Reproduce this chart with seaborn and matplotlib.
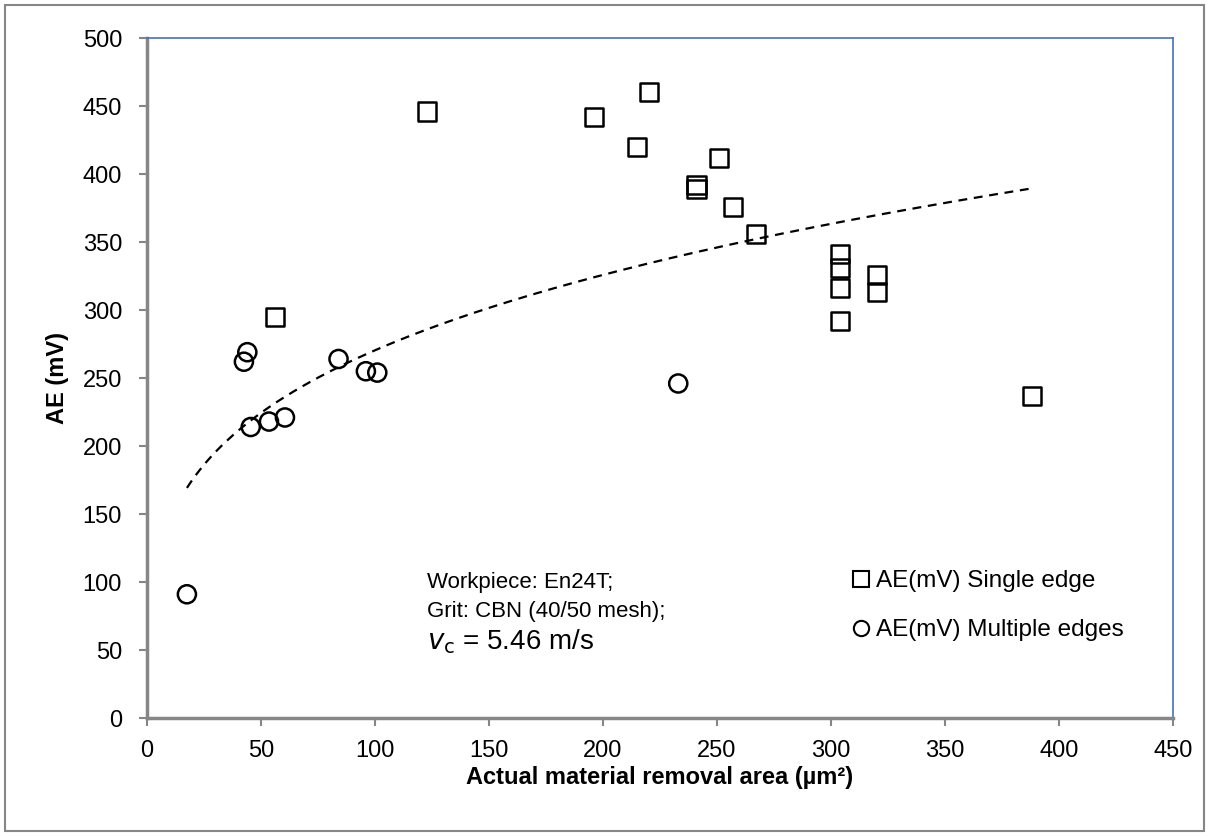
import numpy as np
import pandas as pd
import matplotlib
matplotlib.use("Agg")
import matplotlib.pyplot as plt
from matplotlib.patches import Rectangle
import seaborn as sns

# ── data ─────────────────────────────────────────────────────────────────────
single_x = [56, 123, 196, 220, 215, 251, 241, 241, 257, 267,
            304, 304, 304, 304, 320, 320, 388]
single_y = [295, 446, 442, 460, 420, 412, 392, 389, 376, 356,
            341, 331, 316, 292, 326, 313, 237]
multi_x = [17.5, 42.5, 44, 45.5, 53.5, 60.5, 84, 96, 101, 233]
multi_y = [91, 262, 269, 214, 218, 221, 264, 255, 254, 246]

series_names = ["AE(mV) Single edge", "AE(mV) Multiple edges"]
x_ticks = list(range(0, 451, 50))
y_ticks = list(range(0, 501, 50))

df = pd.concat([
    pd.DataFrame({"area": single_x, "ae": single_y, "series": series_names[0]}),
    pd.DataFrame({"area": multi_x, "ae": multi_y, "series": series_names[1]}),
], ignore_index=True)

# power trendline over all points (Excel style)
b, ln_a = np.polyfit(np.log(df["area"]), np.log(df["ae"]), 1)
fit_x = np.linspace(df["area"].min(), df["area"].max(), 200)
fit = pd.DataFrame({"area": fit_x, "ae": np.exp(ln_a) * fit_x ** b})

# ── figure ───────────────────────────────────────────────────────────────────
sns.set_style("white")
plt.rcParams["font.family"] = ["Liberation Sans", "DejaVu Sans"]
plt.rcParams.update({"text.color": "black", "axes.labelcolor": "black",
                     "xtick.color": "black", "ytick.color": "black"})

fig = plt.figure(figsize=(12.09, 8.36), dpi=100, facecolor="white")
ax = fig.add_axes([0.1216, 0.1411, 0.8486, 0.8134])

sns.lineplot(data=fit, x="area", y="ae", ax=ax, color="black",
             linewidth=1.6, linestyle=(0, (4, 3)), legend=False, zorder=2)
sns.scatterplot(data=df, x="area", y="ae", style="series",
                markers={series_names[0]: "s", series_names[1]: "o"},
                s=170, facecolor="none", edgecolor="black", linewidth=1.8,
                ax=ax, legend=False, zorder=3)

ax.set_xlim(0, 450)
ax.set_ylim(0, 500)
ax.set_xticks(x_ticks)
ax.set_yticks(y_ticks)
ax.tick_params(axis="both", direction="out", length=6, width=1.5,
               color="#868686", labelcolor="black", bottom=True, left=True)
ax.tick_params(axis="x", labelsize=17, pad=10)
ax.tick_params(axis="y", labelsize=17, pad=12)

for side in ["left", "bottom"]:
    ax.spines[side].set_color("#868686")
    ax.spines[side].set_linewidth(2.5)
for side in ["top", "right"]:
    ax.spines[side].set_color("#4472C4")
    ax.spines[side].set_linewidth(1.2)

ax.set_xlabel("Actual material removal area (µm²)", fontsize=17,
              fontweight="bold", labelpad=3)
ax.set_ylabel("AE (mV)", fontsize=17, fontweight="bold", labelpad=10)

# annotation
ax.text(123, 100, "Workpiece: En24T;", fontsize=16, va="center")
ax.text(123, 78.5, "Grit: CBN (40/50 mesh);", fontsize=16, va="center")
ax.text(123, 56, r"$\mathit{v}_\mathrm{c}$ = 5.46 m/s", fontsize=20, va="center")

# legend
handles = [
    plt.Line2D([], [], marker="s", linestyle="none", markersize=11,
               markerfacecolor="none", markeredgecolor="black", markeredgewidth=1.5),
    plt.Line2D([], [], marker="o", linestyle="none", markersize=11,
               markerfacecolor="none", markeredgecolor="black", markeredgewidth=1.5),
]
ax.legend(handles, series_names, loc="center left",
          bbox_to_anchor=(0.675, 0.165), frameon=False, fontsize=17.5,
          handletextpad=0.1, handlelength=1.0, labelspacing=1.1,
          borderaxespad=0)

# outer chart border
fig.patches.append(Rectangle((0.004, 0.006), 0.992, 0.988, transform=fig.transFigure,
                             fill=False, edgecolor="#868686", linewidth=1.5))

fig.savefig("out.png", dpi=100, facecolor="white")
